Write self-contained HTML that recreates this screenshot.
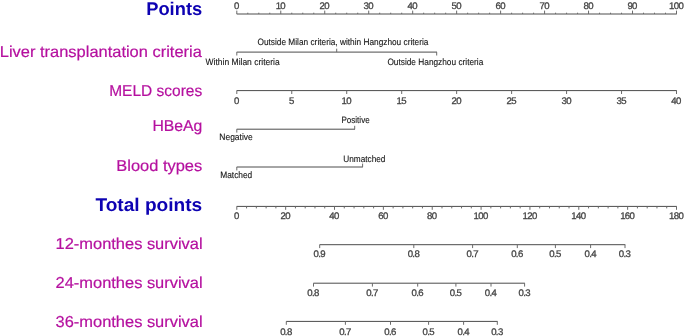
<!DOCTYPE html>
<html><head><meta charset="utf-8"><title>Nomogram</title>
<style>
html,body{margin:0;padding:0;background:#fff;}
body{width:685px;height:336px;overflow:hidden;}
svg{display:block;}
text{font-family:"Liberation Sans",sans-serif;text-rendering:geometricPrecision;}
.n{font-size:9.6px;letter-spacing:-0.6px;fill:#444;stroke:#444;stroke-width:0.3px;}
.c{font-size:9.2px;fill:#151515;stroke:#151515;stroke-width:0.12px;}
.m{fill:#b5109f;stroke:#b5109f;stroke-width:0.2px;}
.b{fill:#0d02b2;font-weight:bold;}
</style></head><body>
<svg width="685" height="336" viewBox="0 0 685 336">
<rect width="685" height="336" fill="#fff"/>
<text x="146.20" y="14.85" class="b" font-size="18.4" textLength="56.00" lengthAdjust="spacingAndGlyphs">Points</text>
<text x="-0.20" y="57.30" class="m" font-size="15.8" textLength="202.00" lengthAdjust="spacingAndGlyphs">Liver transplantation criteria</text>
<text x="109.20" y="96.00" class="m" font-size="15.8" textLength="93.00" lengthAdjust="spacingAndGlyphs">MELD scores</text>
<text x="152.40" y="131.00" class="m" font-size="15.8" textLength="50.00" lengthAdjust="spacingAndGlyphs">HBeAg</text>
<text x="116.30" y="171.00" class="m" font-size="15.8" textLength="85.90" lengthAdjust="spacingAndGlyphs">Blood types</text>
<text x="95.40" y="211.20" class="b" font-size="18.4" textLength="106.80" lengthAdjust="spacingAndGlyphs">Total points</text>
<text x="55.60" y="249.00" class="m" font-size="15.8" textLength="147.00" lengthAdjust="spacingAndGlyphs">12-monthes survival</text>
<text x="55.60" y="288.20" class="m" font-size="15.8" textLength="147.00" lengthAdjust="spacingAndGlyphs">24-monthes survival</text>
<text x="55.60" y="327.30" class="m" font-size="15.8" textLength="147.00" lengthAdjust="spacingAndGlyphs">36-monthes survival</text>
<line x1="236.70" y1="14.00" x2="676.80" y2="14.00" stroke="#4c4c4c" stroke-width="1.0"/>
<line x1="236.80" y1="14.00" x2="236.80" y2="10.60" stroke="#6a6a6a" stroke-width="1"/>
<text x="236.40" y="9.00" text-anchor="middle" class="n">0</text>
<line x1="247.79" y1="14.00" x2="247.79" y2="12.70" stroke="#6a6a6a" stroke-width="1"/>
<line x1="258.79" y1="14.00" x2="258.79" y2="12.70" stroke="#6a6a6a" stroke-width="1"/>
<line x1="269.78" y1="14.00" x2="269.78" y2="12.70" stroke="#6a6a6a" stroke-width="1"/>
<line x1="280.77" y1="14.00" x2="280.77" y2="10.60" stroke="#6a6a6a" stroke-width="1"/>
<text x="280.37" y="9.00" text-anchor="middle" class="n">10</text>
<line x1="291.76" y1="14.00" x2="291.76" y2="12.70" stroke="#6a6a6a" stroke-width="1"/>
<line x1="302.75" y1="14.00" x2="302.75" y2="12.70" stroke="#6a6a6a" stroke-width="1"/>
<line x1="313.75" y1="14.00" x2="313.75" y2="12.70" stroke="#6a6a6a" stroke-width="1"/>
<line x1="324.74" y1="14.00" x2="324.74" y2="10.60" stroke="#6a6a6a" stroke-width="1"/>
<text x="324.34" y="9.00" text-anchor="middle" class="n">20</text>
<line x1="335.73" y1="14.00" x2="335.73" y2="12.70" stroke="#6a6a6a" stroke-width="1"/>
<line x1="346.73" y1="14.00" x2="346.73" y2="12.70" stroke="#6a6a6a" stroke-width="1"/>
<line x1="357.72" y1="14.00" x2="357.72" y2="12.70" stroke="#6a6a6a" stroke-width="1"/>
<line x1="368.71" y1="14.00" x2="368.71" y2="10.60" stroke="#6a6a6a" stroke-width="1"/>
<text x="368.31" y="9.00" text-anchor="middle" class="n">30</text>
<line x1="379.70" y1="14.00" x2="379.70" y2="12.70" stroke="#6a6a6a" stroke-width="1"/>
<line x1="390.70" y1="14.00" x2="390.70" y2="12.70" stroke="#6a6a6a" stroke-width="1"/>
<line x1="401.69" y1="14.00" x2="401.69" y2="12.70" stroke="#6a6a6a" stroke-width="1"/>
<line x1="412.68" y1="14.00" x2="412.68" y2="10.60" stroke="#6a6a6a" stroke-width="1"/>
<text x="412.28" y="9.00" text-anchor="middle" class="n">40</text>
<line x1="423.67" y1="14.00" x2="423.67" y2="12.70" stroke="#6a6a6a" stroke-width="1"/>
<line x1="434.67" y1="14.00" x2="434.67" y2="12.70" stroke="#6a6a6a" stroke-width="1"/>
<line x1="445.66" y1="14.00" x2="445.66" y2="12.70" stroke="#6a6a6a" stroke-width="1"/>
<line x1="456.65" y1="14.00" x2="456.65" y2="10.60" stroke="#6a6a6a" stroke-width="1"/>
<text x="456.25" y="9.00" text-anchor="middle" class="n">50</text>
<line x1="467.64" y1="14.00" x2="467.64" y2="12.70" stroke="#6a6a6a" stroke-width="1"/>
<line x1="478.63" y1="14.00" x2="478.63" y2="12.70" stroke="#6a6a6a" stroke-width="1"/>
<line x1="489.63" y1="14.00" x2="489.63" y2="12.70" stroke="#6a6a6a" stroke-width="1"/>
<line x1="500.62" y1="14.00" x2="500.62" y2="10.60" stroke="#6a6a6a" stroke-width="1"/>
<text x="500.22" y="9.00" text-anchor="middle" class="n">60</text>
<line x1="511.61" y1="14.00" x2="511.61" y2="12.70" stroke="#6a6a6a" stroke-width="1"/>
<line x1="522.61" y1="14.00" x2="522.61" y2="12.70" stroke="#6a6a6a" stroke-width="1"/>
<line x1="533.60" y1="14.00" x2="533.60" y2="12.70" stroke="#6a6a6a" stroke-width="1"/>
<line x1="544.59" y1="14.00" x2="544.59" y2="10.60" stroke="#6a6a6a" stroke-width="1"/>
<text x="544.19" y="9.00" text-anchor="middle" class="n">70</text>
<line x1="555.58" y1="14.00" x2="555.58" y2="12.70" stroke="#6a6a6a" stroke-width="1"/>
<line x1="566.58" y1="14.00" x2="566.58" y2="12.70" stroke="#6a6a6a" stroke-width="1"/>
<line x1="577.57" y1="14.00" x2="577.57" y2="12.70" stroke="#6a6a6a" stroke-width="1"/>
<line x1="588.56" y1="14.00" x2="588.56" y2="10.60" stroke="#6a6a6a" stroke-width="1"/>
<text x="588.16" y="9.00" text-anchor="middle" class="n">80</text>
<line x1="599.55" y1="14.00" x2="599.55" y2="12.70" stroke="#6a6a6a" stroke-width="1"/>
<line x1="610.55" y1="14.00" x2="610.55" y2="12.70" stroke="#6a6a6a" stroke-width="1"/>
<line x1="621.54" y1="14.00" x2="621.54" y2="12.70" stroke="#6a6a6a" stroke-width="1"/>
<line x1="632.53" y1="14.00" x2="632.53" y2="10.60" stroke="#6a6a6a" stroke-width="1"/>
<text x="632.13" y="9.00" text-anchor="middle" class="n">90</text>
<line x1="643.52" y1="14.00" x2="643.52" y2="12.70" stroke="#6a6a6a" stroke-width="1"/>
<line x1="654.51" y1="14.00" x2="654.51" y2="12.70" stroke="#6a6a6a" stroke-width="1"/>
<line x1="665.51" y1="14.00" x2="665.51" y2="12.70" stroke="#6a6a6a" stroke-width="1"/>
<line x1="676.50" y1="14.00" x2="676.50" y2="10.60" stroke="#6a6a6a" stroke-width="1"/>
<text x="676.10" y="9.00" text-anchor="middle" class="n">100</text>
<line x1="236.70" y1="90.60" x2="676.80" y2="90.60" stroke="#4c4c4c" stroke-width="1.0"/>
<line x1="236.80" y1="90.60" x2="236.80" y2="94.00" stroke="#6a6a6a" stroke-width="1"/>
<text x="236.40" y="104.00" text-anchor="middle" class="n">0</text>
<line x1="291.76" y1="90.60" x2="291.76" y2="94.00" stroke="#6a6a6a" stroke-width="1"/>
<text x="291.36" y="104.00" text-anchor="middle" class="n">5</text>
<line x1="346.73" y1="90.60" x2="346.73" y2="94.00" stroke="#6a6a6a" stroke-width="1"/>
<text x="346.33" y="104.00" text-anchor="middle" class="n">10</text>
<line x1="401.69" y1="90.60" x2="401.69" y2="94.00" stroke="#6a6a6a" stroke-width="1"/>
<text x="401.29" y="104.00" text-anchor="middle" class="n">15</text>
<line x1="456.65" y1="90.60" x2="456.65" y2="94.00" stroke="#6a6a6a" stroke-width="1"/>
<text x="456.25" y="104.00" text-anchor="middle" class="n">20</text>
<line x1="511.61" y1="90.60" x2="511.61" y2="94.00" stroke="#6a6a6a" stroke-width="1"/>
<text x="511.21" y="104.00" text-anchor="middle" class="n">25</text>
<line x1="566.58" y1="90.60" x2="566.58" y2="94.00" stroke="#6a6a6a" stroke-width="1"/>
<text x="566.18" y="104.00" text-anchor="middle" class="n">30</text>
<line x1="621.54" y1="90.60" x2="621.54" y2="94.00" stroke="#6a6a6a" stroke-width="1"/>
<text x="621.14" y="104.00" text-anchor="middle" class="n">35</text>
<line x1="676.50" y1="90.60" x2="676.50" y2="94.00" stroke="#6a6a6a" stroke-width="1"/>
<text x="676.10" y="104.00" text-anchor="middle" class="n">40</text>
<line x1="236.70" y1="206.40" x2="676.80" y2="206.40" stroke="#4c4c4c" stroke-width="1.0"/>
<line x1="236.80" y1="206.40" x2="236.80" y2="209.80" stroke="#6a6a6a" stroke-width="1"/>
<text x="236.40" y="219.00" text-anchor="middle" class="n">0</text>
<line x1="285.66" y1="206.40" x2="285.66" y2="209.80" stroke="#6a6a6a" stroke-width="1"/>
<text x="285.26" y="219.00" text-anchor="middle" class="n">20</text>
<line x1="334.51" y1="206.40" x2="334.51" y2="209.80" stroke="#6a6a6a" stroke-width="1"/>
<text x="334.11" y="219.00" text-anchor="middle" class="n">40</text>
<line x1="383.37" y1="206.40" x2="383.37" y2="209.80" stroke="#6a6a6a" stroke-width="1"/>
<text x="382.97" y="219.00" text-anchor="middle" class="n">60</text>
<line x1="432.22" y1="206.40" x2="432.22" y2="209.80" stroke="#6a6a6a" stroke-width="1"/>
<text x="431.82" y="219.00" text-anchor="middle" class="n">80</text>
<line x1="481.08" y1="206.40" x2="481.08" y2="209.80" stroke="#6a6a6a" stroke-width="1"/>
<text x="480.68" y="219.00" text-anchor="middle" class="n">100</text>
<line x1="529.93" y1="206.40" x2="529.93" y2="209.80" stroke="#6a6a6a" stroke-width="1"/>
<text x="529.53" y="219.00" text-anchor="middle" class="n">120</text>
<line x1="578.79" y1="206.40" x2="578.79" y2="209.80" stroke="#6a6a6a" stroke-width="1"/>
<text x="578.39" y="219.00" text-anchor="middle" class="n">140</text>
<line x1="627.64" y1="206.40" x2="627.64" y2="209.80" stroke="#6a6a6a" stroke-width="1"/>
<text x="627.24" y="219.00" text-anchor="middle" class="n">160</text>
<line x1="676.50" y1="206.40" x2="676.50" y2="209.80" stroke="#6a6a6a" stroke-width="1"/>
<text x="676.10" y="219.00" text-anchor="middle" class="n">180</text>
<line x1="246.57" y1="206.40" x2="246.57" y2="208.40" stroke="#6a6a6a" stroke-width="1"/>
<line x1="256.34" y1="206.40" x2="256.34" y2="208.40" stroke="#6a6a6a" stroke-width="1"/>
<line x1="266.11" y1="206.40" x2="266.11" y2="208.40" stroke="#6a6a6a" stroke-width="1"/>
<line x1="275.88" y1="206.40" x2="275.88" y2="208.40" stroke="#6a6a6a" stroke-width="1"/>
<line x1="295.43" y1="206.40" x2="295.43" y2="208.40" stroke="#6a6a6a" stroke-width="1"/>
<line x1="305.20" y1="206.40" x2="305.20" y2="208.40" stroke="#6a6a6a" stroke-width="1"/>
<line x1="314.97" y1="206.40" x2="314.97" y2="208.40" stroke="#6a6a6a" stroke-width="1"/>
<line x1="324.74" y1="206.40" x2="324.74" y2="208.40" stroke="#6a6a6a" stroke-width="1"/>
<line x1="344.28" y1="206.40" x2="344.28" y2="208.40" stroke="#6a6a6a" stroke-width="1"/>
<line x1="354.05" y1="206.40" x2="354.05" y2="208.40" stroke="#6a6a6a" stroke-width="1"/>
<line x1="363.82" y1="206.40" x2="363.82" y2="208.40" stroke="#6a6a6a" stroke-width="1"/>
<line x1="373.60" y1="206.40" x2="373.60" y2="208.40" stroke="#6a6a6a" stroke-width="1"/>
<line x1="393.14" y1="206.40" x2="393.14" y2="208.40" stroke="#6a6a6a" stroke-width="1"/>
<line x1="402.91" y1="206.40" x2="402.91" y2="208.40" stroke="#6a6a6a" stroke-width="1"/>
<line x1="412.68" y1="206.40" x2="412.68" y2="208.40" stroke="#6a6a6a" stroke-width="1"/>
<line x1="422.45" y1="206.40" x2="422.45" y2="208.40" stroke="#6a6a6a" stroke-width="1"/>
<line x1="441.99" y1="206.40" x2="441.99" y2="208.40" stroke="#6a6a6a" stroke-width="1"/>
<line x1="451.76" y1="206.40" x2="451.76" y2="208.40" stroke="#6a6a6a" stroke-width="1"/>
<line x1="461.54" y1="206.40" x2="461.54" y2="208.40" stroke="#6a6a6a" stroke-width="1"/>
<line x1="471.31" y1="206.40" x2="471.31" y2="208.40" stroke="#6a6a6a" stroke-width="1"/>
<line x1="490.85" y1="206.40" x2="490.85" y2="208.40" stroke="#6a6a6a" stroke-width="1"/>
<line x1="500.62" y1="206.40" x2="500.62" y2="208.40" stroke="#6a6a6a" stroke-width="1"/>
<line x1="510.39" y1="206.40" x2="510.39" y2="208.40" stroke="#6a6a6a" stroke-width="1"/>
<line x1="520.16" y1="206.40" x2="520.16" y2="208.40" stroke="#6a6a6a" stroke-width="1"/>
<line x1="539.70" y1="206.40" x2="539.70" y2="208.40" stroke="#6a6a6a" stroke-width="1"/>
<line x1="549.48" y1="206.40" x2="549.48" y2="208.40" stroke="#6a6a6a" stroke-width="1"/>
<line x1="559.25" y1="206.40" x2="559.25" y2="208.40" stroke="#6a6a6a" stroke-width="1"/>
<line x1="569.02" y1="206.40" x2="569.02" y2="208.40" stroke="#6a6a6a" stroke-width="1"/>
<line x1="588.56" y1="206.40" x2="588.56" y2="208.40" stroke="#6a6a6a" stroke-width="1"/>
<line x1="598.33" y1="206.40" x2="598.33" y2="208.40" stroke="#6a6a6a" stroke-width="1"/>
<line x1="608.10" y1="206.40" x2="608.10" y2="208.40" stroke="#6a6a6a" stroke-width="1"/>
<line x1="617.87" y1="206.40" x2="617.87" y2="208.40" stroke="#6a6a6a" stroke-width="1"/>
<line x1="637.42" y1="206.40" x2="637.42" y2="208.40" stroke="#6a6a6a" stroke-width="1"/>
<line x1="647.19" y1="206.40" x2="647.19" y2="208.40" stroke="#6a6a6a" stroke-width="1"/>
<line x1="656.96" y1="206.40" x2="656.96" y2="208.40" stroke="#6a6a6a" stroke-width="1"/>
<line x1="666.73" y1="206.40" x2="666.73" y2="208.40" stroke="#6a6a6a" stroke-width="1"/>
<line x1="319.60" y1="244.70" x2="625.30" y2="244.70" stroke="#4c4c4c" stroke-width="1.0"/>
<line x1="319.70" y1="244.70" x2="319.70" y2="248.10" stroke="#6a6a6a" stroke-width="1"/>
<text x="319.30" y="257.00" text-anchor="middle" class="n">0.9</text>
<line x1="413.80" y1="244.70" x2="413.80" y2="248.10" stroke="#6a6a6a" stroke-width="1"/>
<text x="413.40" y="257.00" text-anchor="middle" class="n">0.8</text>
<line x1="472.60" y1="244.70" x2="472.60" y2="248.10" stroke="#6a6a6a" stroke-width="1"/>
<text x="472.20" y="257.00" text-anchor="middle" class="n">0.7</text>
<line x1="517.30" y1="244.70" x2="517.30" y2="248.10" stroke="#6a6a6a" stroke-width="1"/>
<text x="516.90" y="257.00" text-anchor="middle" class="n">0.6</text>
<line x1="555.40" y1="244.70" x2="555.40" y2="248.10" stroke="#6a6a6a" stroke-width="1"/>
<text x="555.00" y="257.00" text-anchor="middle" class="n">0.5</text>
<line x1="590.60" y1="244.70" x2="590.60" y2="248.10" stroke="#6a6a6a" stroke-width="1"/>
<text x="590.20" y="257.00" text-anchor="middle" class="n">0.4</text>
<line x1="625.00" y1="244.70" x2="625.00" y2="248.10" stroke="#6a6a6a" stroke-width="1"/>
<text x="624.60" y="257.00" text-anchor="middle" class="n">0.3</text>
<line x1="313.40" y1="283.20" x2="524.90" y2="283.20" stroke="#4c4c4c" stroke-width="1.0"/>
<line x1="313.50" y1="283.20" x2="313.50" y2="286.60" stroke="#6a6a6a" stroke-width="1"/>
<text x="313.10" y="296.00" text-anchor="middle" class="n">0.8</text>
<line x1="372.40" y1="283.20" x2="372.40" y2="286.60" stroke="#6a6a6a" stroke-width="1"/>
<text x="372.00" y="296.00" text-anchor="middle" class="n">0.7</text>
<line x1="417.70" y1="283.20" x2="417.70" y2="286.60" stroke="#6a6a6a" stroke-width="1"/>
<text x="417.30" y="296.00" text-anchor="middle" class="n">0.6</text>
<line x1="455.90" y1="283.20" x2="455.90" y2="286.60" stroke="#6a6a6a" stroke-width="1"/>
<text x="455.50" y="296.00" text-anchor="middle" class="n">0.5</text>
<line x1="491.00" y1="283.20" x2="491.00" y2="286.60" stroke="#6a6a6a" stroke-width="1"/>
<text x="490.60" y="296.00" text-anchor="middle" class="n">0.4</text>
<line x1="524.60" y1="283.20" x2="524.60" y2="286.60" stroke="#6a6a6a" stroke-width="1"/>
<text x="524.20" y="296.00" text-anchor="middle" class="n">0.3</text>
<line x1="286.20" y1="321.40" x2="497.60" y2="321.40" stroke="#4c4c4c" stroke-width="1.0"/>
<line x1="286.30" y1="321.40" x2="286.30" y2="324.80" stroke="#6a6a6a" stroke-width="1"/>
<text x="285.90" y="335.00" text-anchor="middle" class="n">0.8</text>
<line x1="345.40" y1="321.40" x2="345.40" y2="324.80" stroke="#6a6a6a" stroke-width="1"/>
<text x="345.00" y="335.00" text-anchor="middle" class="n">0.7</text>
<line x1="390.50" y1="321.40" x2="390.50" y2="324.80" stroke="#6a6a6a" stroke-width="1"/>
<text x="390.10" y="335.00" text-anchor="middle" class="n">0.6</text>
<line x1="428.60" y1="321.40" x2="428.60" y2="324.80" stroke="#6a6a6a" stroke-width="1"/>
<text x="428.20" y="335.00" text-anchor="middle" class="n">0.5</text>
<line x1="463.60" y1="321.40" x2="463.60" y2="324.80" stroke="#6a6a6a" stroke-width="1"/>
<text x="463.20" y="335.00" text-anchor="middle" class="n">0.4</text>
<line x1="497.30" y1="321.40" x2="497.30" y2="324.80" stroke="#6a6a6a" stroke-width="1"/>
<text x="496.90" y="335.00" text-anchor="middle" class="n">0.3</text>
<line x1="236.70" y1="52.10" x2="437.00" y2="52.10" stroke="#4c4c4c" stroke-width="1.0"/>
<line x1="236.80" y1="52.10" x2="236.80" y2="55.50" stroke="#6a6a6a" stroke-width="1"/>
<line x1="336.70" y1="52.10" x2="336.70" y2="48.70" stroke="#6a6a6a" stroke-width="1"/>
<line x1="436.70" y1="52.10" x2="436.70" y2="55.50" stroke="#6a6a6a" stroke-width="1"/>
<text x="205.60" y="64.80" class="c" textLength="74.10" lengthAdjust="spacingAndGlyphs">Within Milan criteria</text>
<text x="257.50" y="44.90" class="c" textLength="170.90" lengthAdjust="spacingAndGlyphs">Outside Milan criteria, within Hangzhou criteria</text>
<text x="387.40" y="64.80" class="c" textLength="95.90" lengthAdjust="spacingAndGlyphs">Outside Hangzhou criteria</text>
<line x1="236.70" y1="129.20" x2="355.00" y2="129.20" stroke="#4c4c4c" stroke-width="1.0"/>
<line x1="236.80" y1="129.20" x2="236.80" y2="132.60" stroke="#6a6a6a" stroke-width="1"/>
<line x1="354.70" y1="129.20" x2="354.70" y2="125.80" stroke="#6a6a6a" stroke-width="1"/>
<text x="219.30" y="140.00" class="c" textLength="33.50" lengthAdjust="spacingAndGlyphs">Negative</text>
<text x="341.40" y="122.60" class="c" textLength="28.30" lengthAdjust="spacingAndGlyphs">Positive</text>
<line x1="236.70" y1="167.00" x2="362.90" y2="167.00" stroke="#4c4c4c" stroke-width="1.0"/>
<line x1="236.80" y1="167.00" x2="236.80" y2="170.40" stroke="#6a6a6a" stroke-width="1"/>
<line x1="362.60" y1="167.00" x2="362.60" y2="163.60" stroke="#6a6a6a" stroke-width="1"/>
<text x="220.20" y="178.40" class="c" textLength="32.10" lengthAdjust="spacingAndGlyphs">Matched</text>
<text x="343.30" y="162.20" class="c" textLength="42.10" lengthAdjust="spacingAndGlyphs">Unmatched</text>
</svg>
</body></html>
